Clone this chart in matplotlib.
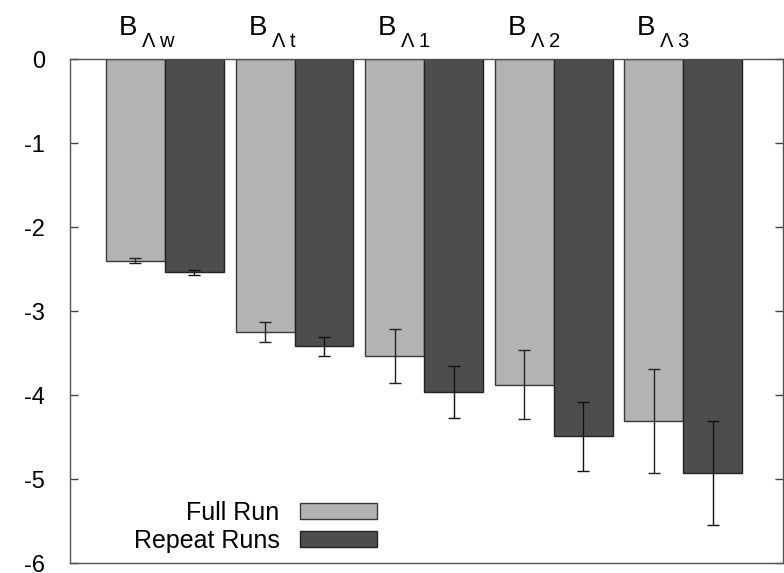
import matplotlib
matplotlib.use('Agg')
import matplotlib.pyplot as plt
import numpy as np

plt.rcParams['font.family'] = ['Liberation Sans', 'DejaVu Sans']

# data
groups = ['w', 't', '1', '2', '3']
full_run = [-2.40, -3.25, -3.54, -3.88, -4.31]
full_err = [0.03, 0.12, 0.32, 0.41, 0.62]
repeat_runs = [-2.54, -3.42, -3.96, -4.49, -4.93]
repeat_err = [0.03, 0.11, 0.31, 0.41, 0.62]
yticks = [0, -1, -2, -3, -4, -5, -6]

fig = plt.figure(figsize=(7.84, 5.73), dpi=100)
ax = fig.add_axes([70/784, 10/573, 713/784, 504/573])

x = np.arange(len(groups))
w = 0.455
ax.bar(x - w/2, full_run, w, color='#b3b3b3', edgecolor='#3a3a3a', linewidth=1.0,
       label='Full Run')
ax.bar(x + w/2, repeat_runs, w, color='#4d4d4d', edgecolor='#222222', linewidth=1.0,
       label='Repeat Runs')
ax.errorbar(x - w/2, full_run, yerr=full_err, fmt='none', ecolor='#222222',
            elinewidth=1.0, capsize=4, capthick=1.0)
ax.errorbar(x + w/2, repeat_runs, yerr=repeat_err, fmt='none', ecolor='#111111',
            elinewidth=1.0, capsize=4, capthick=1.0)

ax.set_xlim(-0.733, 4.77)
ax.set_ylim(-6, 0)
ax.set_yticks(yticks)
ax.set_yticklabels([str(t) for t in yticks], fontsize=17)
ax.set_xticks([])
ax.tick_params(axis='y', direction='in', length=6, width=1, color='#444444',
               right=True, pad=18)

for s in ax.spines.values():
    s.set_color('#555555')
    s.set_linewidth(1.0)

# group labels above the plot: "B" with a "Λ x" subscript
for xi, g in zip(x, groups):
    ax.annotate('B', xy=(xi, 0), xycoords='data', xytext=(-20, 17),
                textcoords='offset points', ha='right', va='baseline',
                fontsize=20, annotation_clip=False)
    ax.annotate('\u039b ' + g, xy=(xi, 0), xycoords='data', xytext=(-16.5, 8.6),
                textcoords='offset points', ha='left', va='baseline',
                fontsize=14.5, annotation_clip=False)

leg = ax.legend(loc='lower right', bbox_to_anchor=(0.4306, 0.02), frameon=False,
                markerfirst=False, fontsize=18, handlelength=3.1, handleheight=0.6,
                labelspacing=0.15, handletextpad=0.8, borderpad=0, borderaxespad=0)

fig.savefig('out.png', dpi=100)
